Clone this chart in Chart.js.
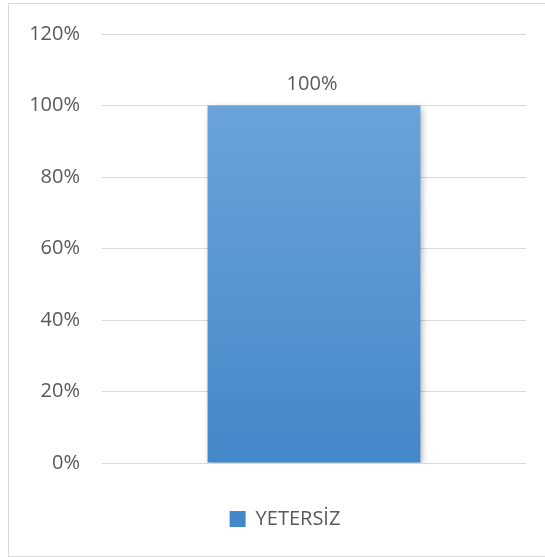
<!DOCTYPE html>
<html>
<head>
<meta charset="utf-8">
<script src="https://cdn.jsdelivr.net/npm/chart.js@4.4.1/dist/chart.umd.min.js"></script>
<style>
  body { margin: 0; background: #fff; overflow: hidden; }
  #frame {
    position: absolute; left: 8px; top: 3px;
    width: 600px; height: 552px;
    border: 1px solid #d9d9d9; border-right: none;
  }
  #myChart { position: absolute; left: 0; top: 0; }
</style>
</head>
<body>
<div id="frame"></div>
<canvas id="myChart" width="545" height="557"></canvas>
<script>
const categories = ["YETERSİZ"];
const values = [1.0];
const valueLabels = ["100%"];
const tickLabels = ["0%", "20%", "40%", "60%", "80%", "100%", "120%"];

const textColor = "#595959";
const gridColor = "#d9d9d9";
const mainFont = { family: "'Open Sans', sans-serif", size: 20 };

function barFill(context) {
  const chart = context.chart;
  const area = chart.chartArea;
  if (!area || context.type !== "data") return "#5b9bd5";
  const g = chart.ctx.createLinearGradient(0, area.top, 0, area.bottom);
  g.addColorStop(0, "#72a8de");
  g.addColorStop(1, "#4388c9");
  return g;
}

// soft shadow under the bar
const barShadow = {
  id: "barShadow",
  beforeDatasetDraw(chart) {
    const c = chart.ctx;
    c.save();
    c.shadowColor = "rgba(0,0,0,0.35)";
    c.shadowBlur = 7;
    c.shadowOffsetX = 2;
    c.shadowOffsetY = 2;
  },
  afterDatasetDraw(chart) {
    chart.ctx.restore();
  }
};

// value text above each bar
const valueText = {
  id: "valueText",
  afterDatasetsDraw(chart) {
    const c = chart.ctx;
    const meta = chart.getDatasetMeta(0);
    c.save();
    c.font = "20px 'Open Sans', sans-serif";
    c.fillStyle = textColor;
    c.textAlign = "center";
    c.textBaseline = "middle";
    meta.data.forEach((bar, i) => {
      c.fillText(valueLabels[i], bar.x - 2, bar.y - 21);
    });
    c.restore();
  }
};

new Chart(document.getElementById("myChart"), {
  type: "bar",
  data: {
    labels: categories,
    datasets: [{
      label: "YETERSİZ",
      data: values,
      backgroundColor: barFill,
      borderWidth: 0,
      categoryPercentage: 1,
      barPercentage: 0.502
    }]
  },
  options: {
    responsive: false,
    animation: false,
    layout: { padding: { top: 32, left: 25, right: 0, bottom: 18 } },
    plugins: {
      legend: {
        position: "bottom",
        labels: {
          color: textColor,
          font: mainFont,
          boxWidth: 16,
          boxHeight: 16,
          padding: 10
        }
      },
      tooltip: { enabled: false }
    },
    scales: {
      x: {
        grid: { display: false },
        border: { display: false },
        ticks: { display: false },
        afterFit(scale) { scale.height = 36; }
      },
      y: {
        min: 0,
        max: 1.2,
        grid: { color: gridColor, lineWidth: 1, drawTicks: false },
        border: { display: false },
        ticks: {
          stepSize: 0.2,
          padding: 22,
          color: textColor,
          font: mainFont,
          callback: (v) => tickLabels[Math.round(v / 0.2)]
        },
        afterFit(scale) { scale.width = 77; }
      },
      // empty strip on the right of the plot
      yRight: {
        position: "right",
        grid: { display: false },
        border: { display: false },
        ticks: { display: false },
        afterFit(scale) { scale.width = 19; }
      }
    }
  },
  plugins: [barShadow, valueText]
});
</script>
</body>
</html>
